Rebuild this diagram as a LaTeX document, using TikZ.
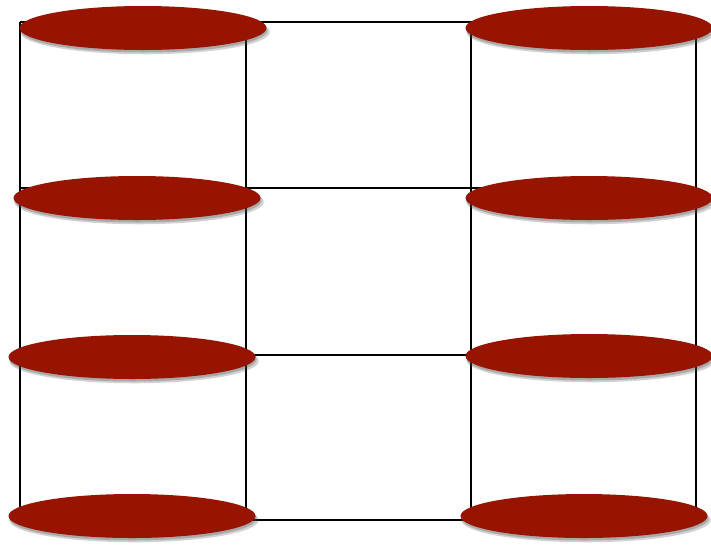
\documentclass[tikz,border=0pt]{standalone}
\usepackage{xcolor}
\usepackage{tikz}
\usetikzlibrary{shapes.geometric,shadows}
\definecolor{DiskRed}{HTML}{961400}

\begin{document}
\begin{tikzpicture}[x=1pt,y=-1pt,
  disk/.style={ellipse,fill=DiskRed,minimum width=247pt,minimum height=44pt,
               inner sep=0pt,
               drop shadow={shadow xshift=2pt,shadow yshift=-4pt,
                            shadow scale=1.01,opacity=0.25,fill=black!70},
               drop shadow={shadow xshift=1pt,shadow yshift=-2.5pt,
                            opacity=0.3,fill=black!70}},
  grid/.style={line width=1.8pt,black}]
\useasboundingbox (0,0) rectangle (711,544);
% grid corners
\foreach \i/\x in {1/20,2/246,3/471,4/696}
  \foreach \j/\y in {1/22,2/188,3/355,4/520}
    \coordinate (g\i\j) at (\x,\y);
\foreach \k in {1,2,3,4} {
  \draw[grid] (g1\k) -- (g4\k);
  \draw[grid] (g\k1) -- (g\k4);
}
% disks
\node[disk] (l1) at (143,28) {};
\node[disk] (r1) at (589,28) {};
\node[disk] (l2) at (137,198) {};
\node[disk] (r2) at (589,198) {};
\node[disk] (l3) at (132,357) {};
\node[disk] (r3) at (589,356) {};
\node[disk] (l4) at (132,516) {};
\node[disk] (r4) at (584,516) {};
\end{tikzpicture}
\end{document}
